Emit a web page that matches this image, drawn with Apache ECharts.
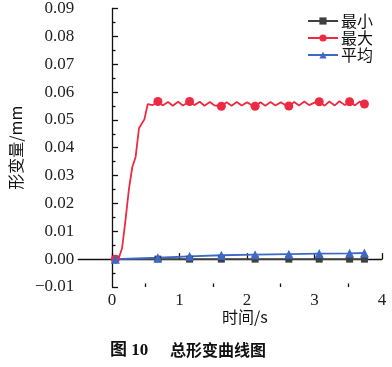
<!DOCTYPE html>
<html><head><meta charset="utf-8">
<script src="https://cdn.jsdelivr.net/npm/echarts@6/dist/echarts.min.js"></script>
<style>html,body{margin:0;padding:0;background:#fff}#c{width:392px;height:367px}</style>
</head><body><div id="c"></div>
<script>
const minX = [0.05, 0.68, 1.15, 1.62, 2.12, 2.62, 3.07, 3.52, 3.74];
const minY = [0, 0, 0, 0, 0, 0, 0, 0, 0];
const avgX = [0.05, 0.68, 1.15, 1.62, 2.12, 2.62, 3.07, 3.52, 3.74];
const avgY = [0, 0.0005, 0.0010, 0.0014, 0.0016, 0.0018, 0.0020, 0.0021, 0.0022];
const maxX = [0.05, 0.1, 0.15, 0.2, 0.25, 0.3, 0.35, 0.4, 0.48, 0.53, 0.6, 0.68, 0.75, 0.83, 0.9, 0.98, 1.05, 1.15, 1.22, 1.3, 1.37, 1.45, 1.52, 1.62, 1.7, 1.77, 1.85, 1.92, 2.0, 2.05, 2.12, 2.2, 2.27, 2.35, 2.42, 2.5, 2.55, 2.62, 2.7, 2.77, 2.85, 2.92, 3.0, 3.07, 3.15, 3.22, 3.3, 3.37, 3.45, 3.52, 3.6, 3.67, 3.74];
const maxY = [0, 0.0003, 0.004, 0.014, 0.025, 0.033, 0.0367, 0.047, 0.0502, 0.0557, 0.0553, 0.0566, 0.0552, 0.0564, 0.0551, 0.0565, 0.0552, 0.0566, 0.0553, 0.0565, 0.0551, 0.0564, 0.0552, 0.0549, 0.0563, 0.0551, 0.0564, 0.0552, 0.0563, 0.0556, 0.0549, 0.0563, 0.0551, 0.0564, 0.0552, 0.0563, 0.0556, 0.055, 0.0564, 0.0552, 0.0566, 0.0553, 0.0562, 0.0565, 0.0551, 0.0566, 0.0552, 0.0567, 0.0553, 0.0565, 0.0552, 0.0566, 0.0557];
const maxMarkX = [0.05, 0.68, 1.15, 1.62, 2.12, 2.62, 3.07, 3.52, 3.74];
const xLabels = [0, 1, 2, 3, 4];
const xMinorTicks = [0.5, 1.5, 2.5, 3.5];
const names = ['最小', '最大', '平均'];
const colors = ['#404040', '#ee2a42', '#3d69c6'];

const serif = '"Liberation Serif","DejaVu Serif","Noto Sans CJK SC",serif';
const cjk = '"Noto Sans CJK SC",sans-serif';

const maxData = maxX.map((x, i) => maxMarkX.includes(x) ? [x, maxY[i]] : {value: [x, maxY[i]], symbol: 'none'});

const chart = echarts.init(document.getElementById('c'));
chart.setOption({
  animation: false,
  color: colors,
  grid: {left: 72, right: 10, top: 8, bottom: 80, containLabel: false},
  legend: {
    orient: 'vertical', right: 14, top: 8, itemGap: 1, itemWidth: 30, itemHeight: 9,
    textStyle: {fontFamily: cjk, fontSize: 16, color: '#111', padding: [0, 0, 0, -2]},
    data: names
  },
  xAxis: [{
    type: 'value', min: -0.5, max: 4,
    axisLine: {show: true, lineStyle: {color: '#111', width: 1.3}},
    axisTick: {show: true, inside: true, length: 6, customValues: xLabels, lineStyle: {color: '#111', width: 1.3}},
    axisLabel: {customValues: xLabels, fontFamily: serif, fontSize: 17, color: '#222', margin: 5},
    splitLine: {show: false}
  }, {
    type: 'value', min: -0.5, max: 4, position: 'bottom',
    axisLine: {show: false},
    axisTick: {show: true, inside: true, length: 3.5, customValues: xMinorTicks, lineStyle: {color: '#111', width: 1.3}},
    axisLabel: {show: false},
    splitLine: {show: false}
  }],
  yAxis: {
    type: 'value', min: -0.01, max: 0.09, interval: 0.01,
    name: '形变量/mm', nameLocation: 'middle', nameGap: 48,
    nameTextStyle: {fontFamily: cjk, fontSize: 16, color: '#111'},
    axisLine: {show: true, lineStyle: {color: '#111', width: 1.3}},
    axisTick: {show: true, inside: true, length: 6, lineStyle: {color: '#111', width: 1.3}},
    minorTick: {show: true, splitNumber: 2, length: 3.5, lineStyle: {color: '#111', width: 1.3}},
    axisLabel: {fontFamily: serif, fontSize: 17, color: '#222', margin: 4,
      formatter: v => (v < 0 ? '\u2212' : '') + Math.abs(v).toFixed(2)},
    splitLine: {show: false}
  },
  series: [{
    name: names[0], type: 'line', symbol: 'rect', symbolSize: 7, showAllSymbol: true,
    lineStyle: {width: 1.8, color: colors[0]}, itemStyle: {color: colors[0]},
    data: minX.map((x, i) => [x, minY[i]])
  }, {
    name: names[1], type: 'line', symbol: 'circle', symbolSize: 9, showAllSymbol: true,
    lineStyle: {width: 1.8, color: colors[1]}, itemStyle: {color: colors[1]},
    data: maxData
  }, {
    name: names[2], type: 'line', symbol: 'triangle', symbolSize: 9, showAllSymbol: true,
    lineStyle: {width: 1.8, color: colors[2]}, itemStyle: {color: colors[2]},
    data: avgX.map((x, i) => [x, avgY[i]])
  }],
  graphic: [{
    type: 'text', left: 222, top: 309,
    style: {text: '时间/s', font: '16px ' + cjk, fill: '#111'}
  }, {
    type: 'text', left: 110, top: 342,
    style: {text: '图 10', font: 'bold 17px "Liberation Serif","Noto Sans CJK SC"', fill: '#111'}
  }, {
    type: 'text', left: 170, top: 342,
    style: {text: '总形变曲线图', font: 'bold 16px ' + cjk, fill: '#111'}
  }]
});
</script></body></html>
